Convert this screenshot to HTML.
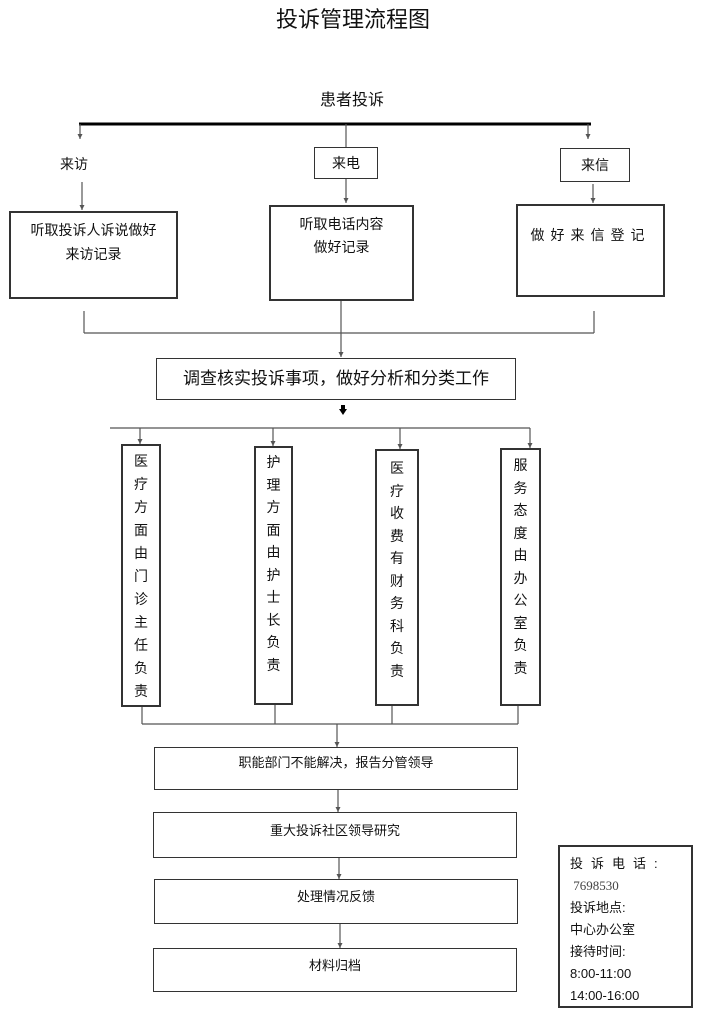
<!DOCTYPE html>
<html><head><meta charset="utf-8"><style>
body{margin:0;background:#fff;}
.w{position:relative;width:702px;height:1024px;font-family:"Liberation Sans","Noto Sans CJK SC",sans-serif;color:#111;}
.t{position:absolute;white-space:nowrap;}
.b{position:absolute;border:1.5px solid #333;box-sizing:border-box;background:#fff;}
.v{position:absolute;border:2px solid #333;box-sizing:border-box;font-size:14px;line-height:23px;text-align:center;padding-top:4px;background:#fff;}
svg{position:absolute;left:0;top:0;}
</style></head><body><div class="w">
<svg width="702" height="1024" stroke="#555" stroke-width="1.2" fill="none">
<defs><marker id="a" markerUnits="userSpaceOnUse" markerWidth="6" markerHeight="6" refX="3" refY="6" orient="0"><path d="M0.5,1 L3,6 L5.5,1 Z" fill="#555" stroke="none"/></marker></defs>
<line x1="79" y1="124" x2="591" y2="124" stroke="#000" stroke-width="3"/>
<line x1="80" y1="124" x2="80" y2="139" marker-end="url(#a)"/>
<line x1="346" y1="124" x2="346" y2="147"/>
<line x1="588" y1="124" x2="588" y2="139" marker-end="url(#a)"/>
<line x1="82" y1="182" x2="82" y2="210" marker-end="url(#a)"/>
<line x1="346" y1="178" x2="346" y2="203" marker-end="url(#a)"/>
<line x1="593" y1="184" x2="593" y2="203" marker-end="url(#a)"/>
<line x1="84" y1="311" x2="84" y2="333"/>
<line x1="594" y1="311" x2="594" y2="333"/>
<line x1="84" y1="333" x2="594" y2="333"/>
<line x1="341" y1="300" x2="341" y2="357" marker-end="url(#a)"/>
<line x1="110" y1="428" x2="530" y2="428"/>
<line x1="140" y1="428" x2="140" y2="444" marker-end="url(#a)"/>
<line x1="273" y1="428" x2="273" y2="446" marker-end="url(#a)"/>
<line x1="400" y1="428" x2="400" y2="449" marker-end="url(#a)"/>
<line x1="530" y1="428" x2="530" y2="448" marker-end="url(#a)"/>
<line x1="142" y1="707" x2="142" y2="724"/>
<line x1="275" y1="705" x2="275" y2="724"/>
<line x1="392" y1="706" x2="392" y2="724"/>
<line x1="518" y1="706" x2="518" y2="724"/>
<line x1="142" y1="724" x2="518" y2="724"/>
<line x1="337" y1="724" x2="337" y2="747" marker-end="url(#a)"/>
<line x1="338" y1="790" x2="338" y2="812" marker-end="url(#a)"/>
<line x1="339" y1="858" x2="339" y2="879" marker-end="url(#a)"/>
<line x1="340" y1="924" x2="340" y2="948" marker-end="url(#a)"/>
<path d="M339,409 h8 l-4,6 z M341,405 h4 v5 h-4z" fill="#000" stroke="none"/>
</svg>
<div class="t" style="left:276px;top:2px;font-size:22px;">投诉管理流程图</div>
<div class="t" style="left:320px;top:86px;font-size:16px;">患者投诉</div>
<div class="t" style="left:60px;top:154px;font-size:14px;">来访</div>
<div class="b" style="left:314px;top:147px;width:64px;height:32px;font-size:14px;text-align:center;line-height:30px;">来电</div>
<div class="b" style="left:560px;top:148px;width:70px;height:34px;font-size:14px;text-align:center;line-height:32px;">来信</div>
<div class="b" style="left:9px;top:211px;width:169px;height:88px;font-size:14px;text-align:center;line-height:24px;padding-top:5px;border-width:2px;">听取投诉人诉说做好<br>来访记录</div>
<div class="b" style="left:269px;top:205px;width:145px;height:96px;font-size:14px;text-align:center;line-height:23px;padding-top:6px;border-width:2px;">听取电话内容<br>做好记录</div>
<div class="b" style="left:516px;top:204px;width:149px;height:93px;font-size:14px;text-align:center;line-height:24px;padding-top:17px;border-width:2px;letter-spacing:6px;">做好来信登记</div>
<div class="b" style="left:156px;top:358px;width:360px;height:42px;font-size:17px;text-align:center;line-height:39px;">调查核实投诉事项，做好分析和分类工作</div>
<div class="v" style="left:121px;top:444px;width:40px;height:263px;">医<br>疗<br>方<br>面<br>由<br>门<br>诊<br>主<br>任<br>负<br>责</div>
<div class="v" style="left:254px;top:446px;width:39px;height:259px;padding-top:3px;line-height:22.5px;">护<br>理<br>方<br>面<br>由<br>护<br>士<br>长<br>负<br>责</div>
<div class="v" style="left:375px;top:449px;width:44px;height:257px;padding-top:6px;line-height:22.5px;">医<br>疗<br>收<br>费<br>有<br>财<br>务<br>科<br>负<br>责</div>
<div class="v" style="left:500px;top:448px;width:41px;height:258px;padding-top:4px;line-height:22.5px;">服<br>务<br>态<br>度<br>由<br>办<br>公<br>室<br>负<br>责</div>
<div class="b" style="left:154px;top:747px;width:364px;height:43px;font-size:13px;text-align:center;line-height:30px;">职能部门不能解决，报告分管领导</div>
<div class="b" style="left:153px;top:812px;width:364px;height:46px;font-size:13px;text-align:center;line-height:36px;">重大投诉社区领导研究</div>
<div class="b" style="left:154px;top:879px;width:364px;height:45px;font-size:13px;text-align:center;line-height:34px;">处理情况反馈</div>
<div class="b" style="left:153px;top:948px;width:364px;height:44px;font-size:13px;text-align:center;line-height:34px;">材料归档</div>
<div class="b" style="left:558px;top:845px;width:135px;height:163px;font-size:13px;line-height:22px;padding:6px 0 0 10px;border-width:2px;">
<div style="letter-spacing:8px;">投诉电话:</div>
<div style="font-family:'Liberation Serif',serif;color:#444;">&nbsp;7698530</div>
<div>投诉地点:</div>
<div>中心办公室</div>
<div>接待时间:</div>
<div>8:00-11:00</div>
<div>14:00-16:00</div>
</div>
</div></body></html>
